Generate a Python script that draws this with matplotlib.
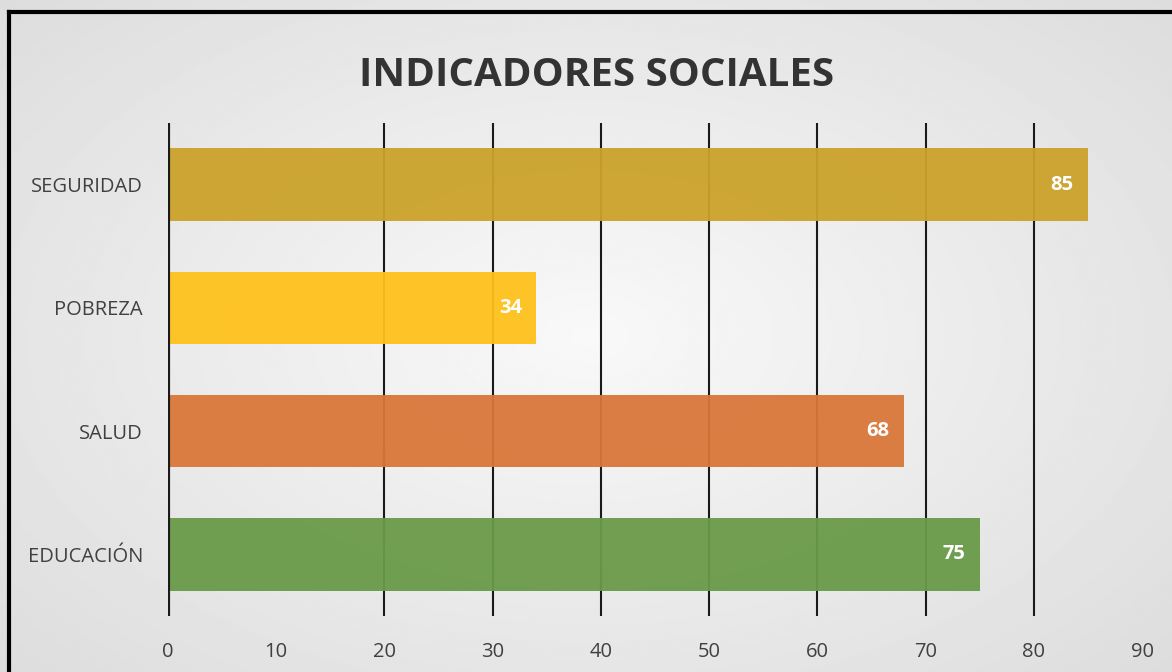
import numpy as np
import matplotlib
matplotlib.use('Agg')
import matplotlib.pyplot as plt
from matplotlib.lines import Line2D

categories = ['EDUCACIÓN', 'SALUD', 'POBREZA', 'SEGURIDAD']
values = [75, 68, 34, 85]
colors = ['#6a9a48', '#d9773a', '#ffc21c', '#cba22b']
xticks = [0, 10, 20, 30, 40, 50, 60, 70, 80, 90]
gridlines = [20, 30, 40, 50, 60, 70, 80]

plt.rcParams['font.family'] = ['Open Sans', 'DejaVu Sans']

fig = plt.figure(figsize=(11.72, 6.72), dpi=100)

# radial gray background
bg = fig.add_axes([0, 0, 1, 1], zorder=-10)
yy, xx = np.mgrid[0:1:300j, 0:1:500j]
r = np.sqrt(((xx - 0.5) / 0.75) ** 2 + ((yy - 0.5) / 0.8) ** 2)
bg.imshow(0.975 - 0.12 * np.clip(r, 0, 1), cmap='gray', vmin=0, vmax=1,
          extent=[0, 1, 0, 1], aspect='auto')
bg.axis('off')

# frame (top and left edges visible)
fig.add_artist(Line2D([9 / 1172, 1], [1 - 12 / 672, 1 - 12 / 672], color='black', lw=3, transform=fig.transFigure))
fig.add_artist(Line2D([9 / 1172, 9 / 1172], [0, 1 - 12 / 672], color='black', lw=3, transform=fig.transFigure))

ax = fig.add_axes([168 / 1172, 1 - 616 / 672, (1142 - 168) / 1172, (616 - 123) / 672])
ax.patch.set_alpha(0)

y = np.arange(len(categories))
ax.barh(y, values, height=0.59, color=colors, alpha=0.95, zorder=3)

for g in gridlines:
    ax.axvline(g, color='#1a1a1a', lw=1.5, zorder=2)
ax.axvline(0, color='#1a1a1a', lw=3, zorder=4)

for yi, v in zip(y, values):
    ax.text(v - 1.3, yi, str(v), ha='right', va='center', color='white',
            fontsize=14.5, fontweight='bold', zorder=5)

ax.set_xlim(0, 90)
ax.set_ylim(-0.5, 3.5)
ax.set_xticks(xticks)
ax.set_yticks(y)
ax.set_yticklabels(categories)
ax.tick_params(axis='both', length=0, labelsize=14.5, colors='#404040')
ax.tick_params(axis='x', pad=19)
ax.tick_params(axis='y', pad=18)
for s in ax.spines.values():
    s.set_visible(False)

fig.text(597 / 1172, 1 - 75 / 672, 'INDICADORES SOCIALES', ha='center', va='center',
         fontsize=29, fontweight='bold', color='#333333')

fig.savefig('out.png', dpi=100)
